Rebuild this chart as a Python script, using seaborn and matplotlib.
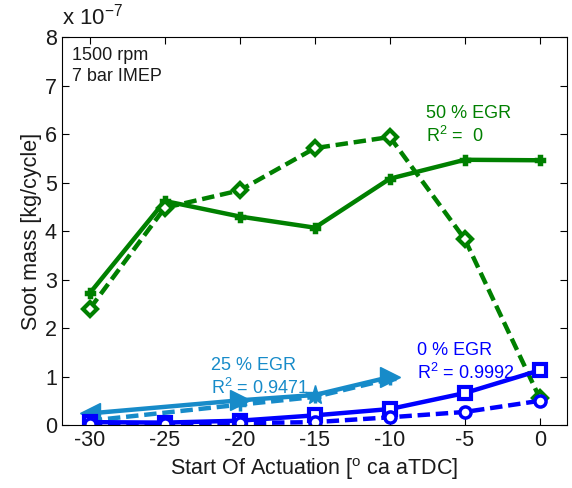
import numpy as np
import pandas as pd
import matplotlib
matplotlib.use("Agg")
import matplotlib.pyplot as plt
import seaborn as sns

# ---- data (units of 1e-7 kg/cycle) ----
soa = [-30, -25, -20, -15, -10, -5, 0]
egr50_solid = [2.72, 4.62, 4.30, 4.07, 5.08, 5.47, 5.46]
egr50_dashed = [2.40, 4.48, 4.84, 5.71, 5.94, 3.83, 0.55]
egr0_solid = [0.06, 0.05, 0.09, 0.20, 0.33, 0.66, 1.13]
egr0_dashed = [0.02, 0.02, 0.04, 0.06, 0.16, 0.27, 0.50]
soa25 = [-30, -20, -15, -10]
egr25_solid = [0.24, 0.51, 0.62, 0.99]
egr25_dashed = [0.09, 0.42, 0.58, 0.95]
xticks = [-30, -25, -20, -15, -10, -5, 0]
yticks = [0, 1, 2, 3, 4, 5, 6, 7, 8]

GREEN = "#008000"
BLUE = "#0000ff"
LBLUE = "#178bc9"

sns.set_theme(style="white")
plt.rcParams["font.family"] = ["Liberation Sans", "DejaVu Sans"]

fig = plt.figure(figsize=(5.72, 4.88), dpi=100)
ax = fig.add_axes([0.108, 0.129, 0.883, 0.795])

lw = 3.2
DASH = (0, (2.8, 1.3))
def draw(x, y, color, ls, marker, ms, mfc=None, mew=2.5):
    df = pd.DataFrame({"x": x, "y": y})
    sns.lineplot(data=df, x="x", y="y", ax=ax, color=color, linestyle=ls,
                 linewidth=lw, marker=marker, markersize=ms,
                 markerfacecolor=mfc if mfc else color,
                 markeredgecolor=color, markeredgewidth=mew, dashes=False)

# green 50% EGR
draw(soa, egr50_solid, GREEN, "-", "P", 6)
draw(soa, egr50_dashed, GREEN, DASH, "D", 7, mfc="white", mew=3)
# light-blue 25% EGR
draw(soa25, egr25_dashed, LBLUE, DASH, "+", 8)
draw(soa25, egr25_solid, LBLUE, "-", None, 0)
for xx, yy, m in zip(soa25, egr25_solid, ["<", ">", "*", ">"]):
    ax.plot(xx, yy, marker=m, color=LBLUE, markersize=15, linestyle="none")
# blue 0% EGR
draw(soa, egr0_solid, BLUE, "-", "s", 8, mfc="white", mew=3)
draw(soa, egr0_dashed, BLUE, DASH, "o", 8, mfc="white", mew=2.5)

ax.set_xlim(-31.87, 1.8)
ax.set_ylim(0, 8)
ax.set_xticks(xticks)
ax.set_yticks(yticks)
ax.set_xticklabels([str(t) for t in xticks])
ax.set_yticklabels([str(t) for t in yticks])
ax.tick_params(direction="in", length=5, width=0.8, labelsize=15.5,
               top=True, right=True, bottom=True, left=True, colors="black",
               labelcolor="#1a1a1a")
for s in ax.spines.values():
    s.set_color("black")
    s.set_linewidth(0.8)
ax.set_xlabel("Start Of Actuation [$^{\\mathregular{o}}$ ca aTDC]", fontsize=15.5, color="#1a1a1a")
ax.set_ylabel("Soot mass [kg/cycle]", fontsize=15.5, color="#1a1a1a", labelpad=2)

fig.text(0.108, 0.94, "x 10$^{\\mathregular{-7}}$", fontsize=16, color="#1a1a1a",
         ha="left", va="bottom")
ax.text(0.02, 0.975, "1500 rpm\n7 bar IMEP", transform=ax.transAxes, fontsize=13,
        va="top", ha="left", color="#1a1a1a", linespacing=1.3)
ax.text(-7.6, 5.75, "50 % EGR\nR$^{\\mathregular{2}}$ =  0", fontsize=13, color=GREEN,
        ha="left", va="bottom", linespacing=1.25)
ax.text(-21.9, 0.55, "25 % EGR\nR$^{\\mathregular{2}}$ = 0.9471", fontsize=13, color=LBLUE,
        ha="left", va="bottom", linespacing=1.25)
ax.text(-8.2, 0.86, "0 % EGR\nR$^{\\mathregular{2}}$ = 0.9992", fontsize=13, color=BLUE,
        ha="left", va="bottom", linespacing=1.25)

fig.savefig("out.png", dpi=100)
